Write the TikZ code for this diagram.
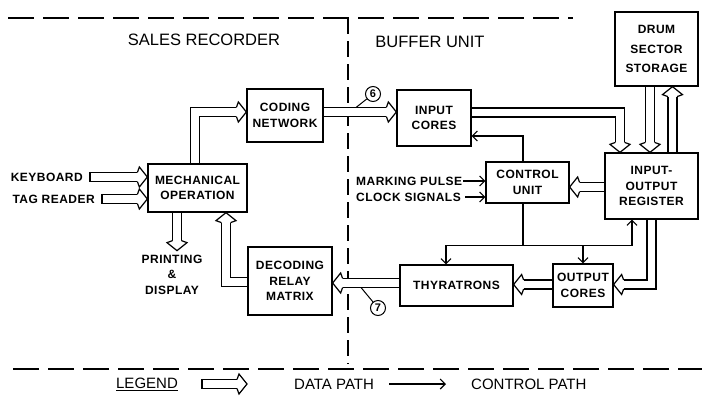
\documentclass[tikz,border=0pt]{standalone}
\usepackage{fontspec}
\setmainfont{Liberation Sans}
\newfontfamily\boxfont[LetterSpace=4]{Liberation Sans}
\usetikzlibrary{arrows.meta, positioning}

\tikzset{
  box/.style={rectangle, draw=black, line width=1.3pt, align=center, font=\boxfont\fontsize{12}{15.5}\selectfont\bfseries, inner sep=1pt},
  lbl/.style={font=\boxfont\fontsize{12}{15.5}\selectfont\bfseries, inner sep=1pt},
  heading/.style={font=\fontsize{16.5}{18}\selectfont, inner sep=1pt},
  legendtext/.style={font=\fontsize{15}{18}\selectfont, inner sep=1pt},
  datapath/.style={double=white, double distance=7.8pt, line width=1.2pt, shorten <=0.7pt},
  ctrl/.style={line width=1.1pt, -{Straight Barb[length=5pt, width=10pt, line width=1.1pt]}},
  divider/.style={line width=1.3pt, dash pattern=on 26pt off 9pt},
  numcirc/.style={circle, draw, line width=1pt, inner sep=0.5pt, minimum size=15pt, font=\fontsize{11}{11}\selectfont\bfseries},
  dhead/.pic={
    \fill[white] (-10,-3.9) -- (-8,-10) -- (0,0) -- (-8,10) -- (-10,3.9) -- cycle;
    \draw[line width=1.2pt, line join=miter] (-10,-4.5) -- (-8,-10) -- (0,0) -- (-8,10) -- (-10,4.5);
  },
  dtail/.pic={\draw[line width=1.2pt] (0,-5.1) -- (0,5.1);}
}

\begin{document}
\begin{tikzpicture}[x=1pt, y=-1pt]
  \useasboundingbox (0,0) rectangle (702,397);

  % dashed borders
  \draw[divider] (8,18) -- (573,18);
  \draw[divider] (13,369) -- (702,369);
  \draw[divider, dash pattern=on 16pt off 7pt] (348,18) -- (348,364);

  \node[heading] (sales) at (204,40) {SALES RECORDER};
  \node[heading] (buffer) at (430,42) {BUFFER UNIT};

  % blocks
  \node[box, minimum width=99pt, minimum height=48pt] (mech) at (197.5,188) {MECHANICAL\\OPERATION};
  \node[box, minimum width=76pt, minimum height=53pt] (coding) at (285,115.5) {CODING\\NETWORK};
  \node[box, minimum width=84pt, minimum height=68pt] (decoding) at (290,281) {DECODING\\RELAY\\MATRIX};
  \node[box, minimum width=74pt, minimum height=56pt] (input) at (434,118) {INPUT\\CORES};
  \node[box, minimum width=83pt, minimum height=41pt] (control) at (527.5,182.5) {CONTROL\\UNIT};
  \node[box, minimum width=93pt, minimum height=66pt] (io) at (651.5,186) {INPUT-\\OUTPUT\\REGISTER};
  \node[box, minimum width=83pt, minimum height=74pt] (drum) at (656.5,49) {DRUM\\[4pt]SECTOR\\[4pt]STORAGE};
  \node[box, minimum width=113pt, minimum height=41pt] (thyr) at (456.5,285.5) {THYRATRONS};
  \node[box, minimum width=60pt, minimum height=43pt] (output) at (583,285.5) {OUTPUT\\CORES};

  % sales recorder inputs
  \node[lbl, anchor=east] (keyboard) at (84,177) {KEYBOARD};
  \node[lbl, anchor=east] (tagreader) at (96,199) {TAG READER};
  \draw[datapath, shorten <=0pt] ([xshift=6pt]keyboard.east) -- ([xshift=-10pt]mech.west |- keyboard.east);
  \pic at (mech.west |- keyboard.east) {dhead};
  \pic at ([xshift=6pt]keyboard.east) {dtail};
  \draw[datapath, shorten <=0pt] ([xshift=6pt]tagreader.east) -- ([xshift=-10pt]mech.west |- tagreader.east);
  \pic at (mech.west |- tagreader.east) {dhead};
  \pic at ([xshift=6pt]tagreader.east) {dtail};

  % data paths
  \draw[datapath] ([xshift=-2.5pt]mech.north) |- ([xshift=-10pt, yshift=3.5pt]coding.west);
  \pic at ([yshift=3.5pt]coding.west) {dhead};

  \draw[datapath] ([yshift=3.5pt]coding.east) -- ([xshift=-10pt, yshift=6pt]input.west);
  \pic at ([yshift=6pt]input.west) {dhead};

  \draw[datapath] ([yshift=5.5pt]input.east) -| ([xshift=-31.5pt, yshift=10pt]io.north);
  \pic[rotate=-90] at ([xshift=-31.5pt]io.north) {dhead};

  \coordinate (dd) at ([xshift=-6.5pt]drum.south);
  \draw[datapath] (dd) -- ([yshift=10pt]io.north -| dd);
  \pic[rotate=-90] at (io.north -| dd) {dhead};

  \coordinate (du) at ([xshift=16pt]drum.south);
  \draw[datapath] (io.north -| du) -- ([yshift=-10pt]du);
  \pic[rotate=90] at (du) {dhead};

  \coordinate (ioc) at ([yshift=-1pt]io.west);
  \draw[datapath] (ioc) -- ([xshift=10pt]control.east |- ioc);
  \pic[rotate=180] at (control.east |- ioc) {dhead};

  \coordinate (ioo) at ([yshift=1pt]output.east);
  \draw[datapath] (io.south) |- ([xshift=10pt]ioo);
  \pic[rotate=180] at (ioo) {dhead};

  \draw[datapath] ([yshift=1pt]output.west) -- ([xshift=10pt, yshift=1pt]thyr.east);
  \pic[rotate=180] at ([yshift=1pt]thyr.east) {dhead};

  \coordinate (td) at ([yshift=2.5pt]thyr.west);
  \draw[datapath] (td) -- ([xshift=10pt]decoding.east |- td);
  \pic[rotate=180] at (decoding.east |- td) {dhead};

  \coordinate (dm) at ([xshift=28.5pt]mech.south);
  \draw[datapath] ([yshift=-1pt]decoding.west) -| ([yshift=-10pt]dm);
  \pic[rotate=90] at (dm) {dhead};

  \coordinate (pr) at ([xshift=-20.5pt]mech.south);
  \coordinate (prtip) at ([yshift=-38pt]pr);
  \draw[datapath] (pr) -- ([yshift=10pt]prtip);
  \pic[rotate=-90] at (prtip) {dhead};
  \node[lbl, align=center, below=3pt of prtip, xshift=-5pt] (printing) {PRINTING\\\&\\DISPLAY};

  % cable numbers
  \node[numcirc] (six) at (373,94) {6};
  \coordinate (sixfoot) at (356,107.5);
  \draw[line width=1pt] (six) -- (sixfoot);
  \node[numcirc] (seven) at (378,308) {7};
  \coordinate (sevenfoot) at (361,287.5);
  \draw[line width=1pt] (seven) -- (sevenfoot);

  % control paths
  \node[lbl, anchor=west] (marking) at (355,181) {MARKING PULSE};
  \node[lbl, anchor=west] (clock) at (355,197) {CLOCK SIGNALS};
  \draw[ctrl] (marking.east) -- (control.west |- marking.east);
  \draw[ctrl] ([xshift=3pt]clock.east) -- (control.west |- clock.east);

  \draw[ctrl] ([xshift=-4.5pt]control.north) |- ([yshift=-18pt]input.east);

  \coordinate (bus) at ([xshift=-4.5pt, yshift=-42pt]control.south);
  \draw[line width=1.1pt] ([xshift=-4.5pt]control.south) -- (bus);
  \draw[ctrl] (bus) -| ([xshift=-10.5pt]thyr.north);
  \draw[ctrl] (bus) -| (output.north);
  \draw[ctrl] (bus) -| ([xshift=-19.5pt]io.south);

  % legend
  \node[legendtext] (legend) at (147,384) {\underline{LEGEND}};
  \coordinate (lgtail) at (202,384);
  \coordinate (lgtip) at (247,384);
  \draw[datapath, shorten <=0pt] (lgtail) -- ([xshift=-10pt]lgtip);
  \pic at (lgtip) {dhead};
  \pic at (lgtail) {dtail};
  \node[legendtext, anchor=west] (datalbl) at (293,384) {DATA PATH};
  \node[legendtext, anchor=west] (ctrllbl) at (470,384) {CONTROL PATH};
  \draw[ctrl] ([xshift=14pt]datalbl.east) -- ([xshift=-24pt]ctrllbl.west);
\end{tikzpicture}
\end{document}
